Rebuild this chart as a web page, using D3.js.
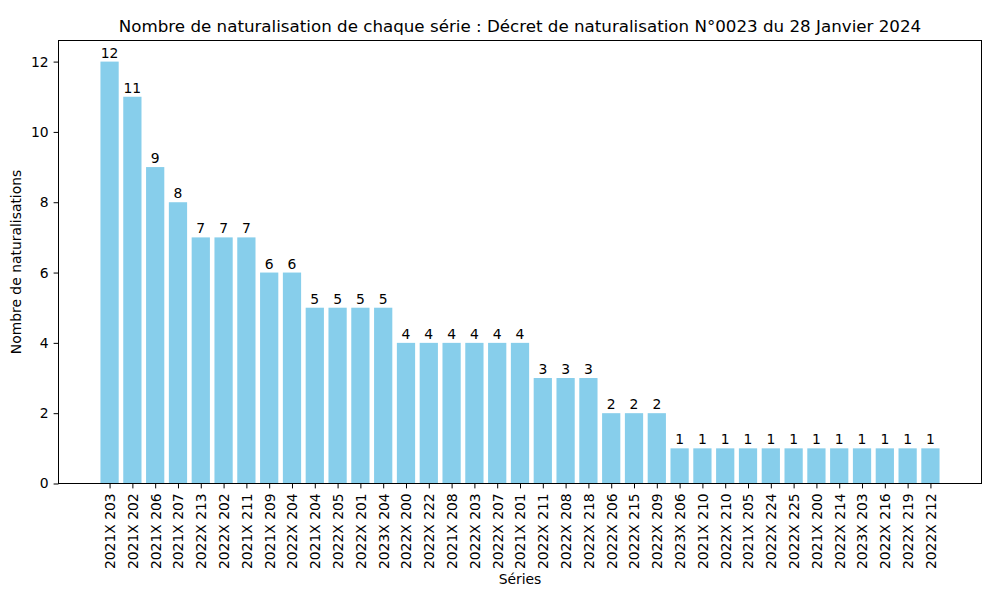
<!DOCTYPE html>
<html>
<head>
<meta charset="utf-8">
<script src="https://cdn.jsdelivr.net/npm/d3@7"></script>
<style>
  body { margin: 0; background: #fff; }
  text { font-family: "DejaVu Sans", sans-serif; fill: #000; }
</style>
</head>
<body>
<svg id="chart" width="988" height="594"></svg>
<script>
// series labels, in display order
var series = ['2021X 203', '2021X 202', '2021X 206', '2021X 207', '2022X 213', '2022X 202', '2021X 211',
  '2021X 209', '2022X 204', '2021X 204', '2022X 205', '2022X 201', '2023X 204', '2022X 200', '2022X 222',
  '2021X 208', '2022X 203', '2022X 207', '2021X 201', '2022X 211', '2022X 208', '2022X 218', '2022X 206',
  '2022X 215', '2022X 209', '2023X 206', '2021X 210', '2022X 210', '2021X 205', '2022X 224', '2022X 225',
  '2021X 200', '2022X 214', '2023X 203', '2022X 216', '2022X 219', '2022X 212'];
var counts = [12, 11, 9, 8, 7, 7, 7, 6, 6, 5, 5, 5, 5, 4, 4, 4, 4, 4, 4, 3, 3, 3, 2, 2, 2,
  1, 1, 1, 1, 1, 1, 1, 1, 1, 1, 1, 1];
var yTicks = [0, 2, 4, 6, 8, 10, 12];

var svg = d3.select('#chart'),
    plotLeft = 58.5, plotRight = 981.5, plotTop = 40.5, plotBottom = 483.5;

// matplotlib-like x limits: bars of width 0.8 plus 5% margins
var n = series.length,
    span = n - 1 + 0.8,
    x = d3.scaleLinear().domain([-0.4 - 0.05 * span, n - 1 + 0.4 + 0.05 * span]).range([plotLeft, plotRight]),
    y = d3.scaleLinear().domain([0, 12.6]).range([plotBottom, plotTop]);

var g = svg.append('g');

g.selectAll('rect.bar').data(counts).enter().append('rect')
  .attr('class', 'bar')
  .attr('x', function (d, i) { return x(i - 0.4); })
  .attr('width', x(0.8) - x(0))
  .attr('y', function (d) { return y(d); })
  .attr('height', function (d) { return y(0) - y(d); })
  .attr('fill', '#87ceeb');

// value labels above each bar
g.selectAll('text.val').data(counts).enter().append('text')
  .attr('class', 'val')
  .attr('x', function (d, i) { return x(i); })
  .attr('y', function (d) { return y(d) - 4; })
  .attr('text-anchor', 'middle')
  .style('font-size', '13.9px')
  .text(function (d) { return d; });

// axes
var xAxis = d3.axisBottom(x).tickValues(d3.range(n)).tickFormat(function (i) { return series[i]; })
  .tickSizeInner(4.9).tickSizeOuter(0).tickPadding(4.9);
var yAxis = d3.axisLeft(y).tickValues(yTicks).tickSizeInner(4.9).tickSizeOuter(0).tickPadding(4.9);

var xg = svg.append('g').attr('transform', 'translate(0,' + plotBottom + ')').call(xAxis);
xg.select('.domain').remove();
xg.selectAll('text')
  .style('font-size', '13.9px')
  .attr('transform', 'rotate(-90)')
  .attr('text-anchor', 'end')
  .attr('x', -9.8)
  .attr('y', 0)
  .attr('dy', '0.35em');

var yg = svg.append('g').attr('transform', 'translate(' + plotLeft + ',0)').call(yAxis);
yg.select('.domain').remove();
yg.selectAll('text').style('font-size', '13.9px');

svg.selectAll('.tick line').attr('stroke', '#000').attr('stroke-width', 1);

// frame
svg.append('rect')
  .attr('x', plotLeft).attr('y', plotTop)
  .attr('width', plotRight - plotLeft).attr('height', plotBottom - plotTop)
  .attr('fill', 'none').attr('stroke', '#000').attr('stroke-width', 1);

// title and axis labels
svg.append('text')
  .attr('x', (plotLeft + plotRight) / 2).attr('y', 32)
  .attr('text-anchor', 'middle')
  .style('font-size', '16.7px')
  .text('Nombre de naturalisation de chaque série : Décret de naturalisation N°0023 du 28 Janvier 2024');

svg.append('text')
  .attr('x', (plotLeft + plotRight) / 2).attr('y', 584)
  .attr('text-anchor', 'middle')
  .style('font-size', '13.9px')
  .text('Séries');

svg.append('text')
  .attr('transform', 'translate(21,' + (plotTop + plotBottom) / 2 + ') rotate(-90)')
  .attr('text-anchor', 'middle')
  .style('font-size', '13.9px')
  .text('Nombre de naturalisations');
</script>
</body>
</html>
